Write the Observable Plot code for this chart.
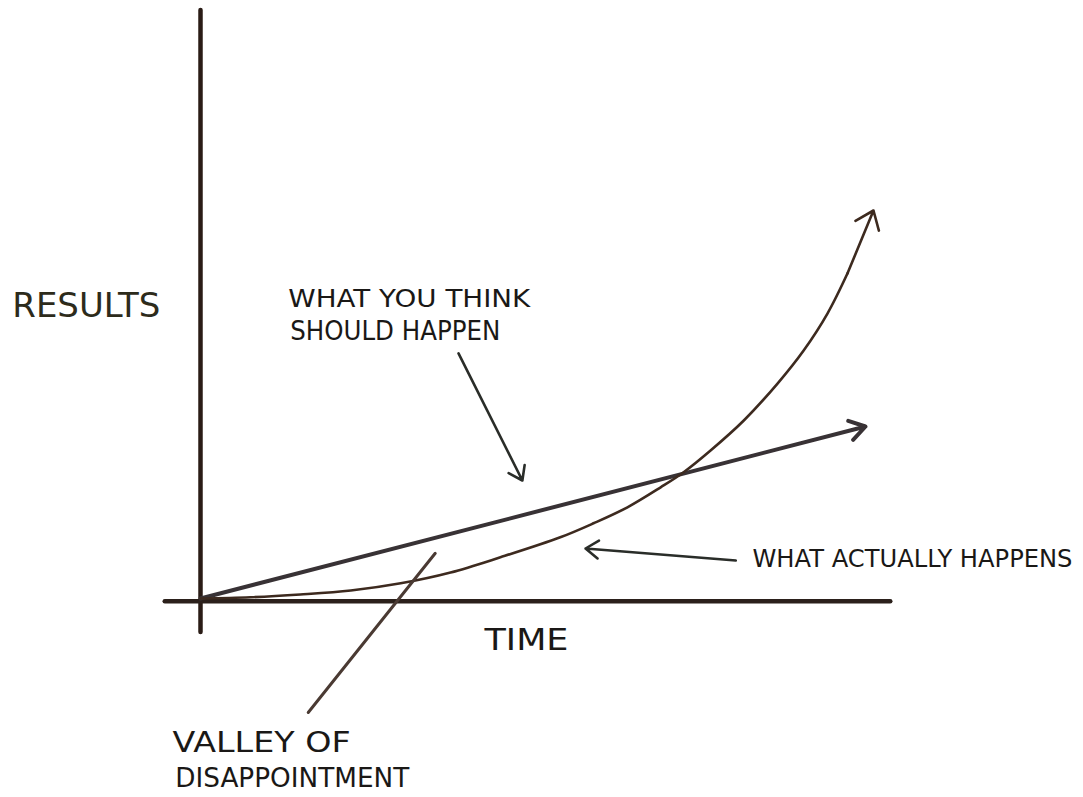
<!DOCTYPE html>
<html>
<head>
<meta charset="utf-8">
<script src="https://cdn.jsdelivr.net/npm/d3@7"></script>
<script src="https://cdn.jsdelivr.net/npm/@observablehq/plot@0.6"></script>
<style>
  html, body { margin: 0; padding: 0; background: #ffffff; }
  #chart svg { display: block; }
</style>
</head>
<body>
<div id="chart"></div>
<script>
// ---- data (time / results units) ----
const actualTime    = [0, 0.75, 1.5, 2.26, 3.01, 3.76, 4.51, 5.41, 5.91, 6.42, 6.92, 7.26, 7.67, 8.17, 8.68, 9.07, 9.43, 9.73, 9.98, 10.12];
const actualResults = [0.05, 0.08, 0.15, 0.25, 0.43, 0.7, 1.08, 1.58, 1.93, 2.33, 2.83, 3.2, 3.75, 4.5, 5.43, 6.25, 7.18, 8.18, 9.08, 9.75];
const expectedTime    = [0, 10];
const expectedResults = [0.05, 4.35];

// annotation labels
const labelText = ["RESULTS", "TIME", "WHAT YOU THINK", "SHOULD HAPPEN", "WHAT ACTUALLY HAPPENS", "VALLEY OF", "DISAPPOINTMENT"];
const labelX    = [-2.83, 4.27, 1.32, 1.35, 8.30, -0.42, -0.38];
const labelY    = [7.35, -1.0, 7.53, 6.71, 1.02, -3.56, -4.45];

// pointer lines (from label to curve)
const pointerX1 = [3.88, 8.05];
const pointerY1 = [6.18, 1.0];
const pointerX2 = [4.84, 5.79];
const pointerY2 = [3.0, 1.3];
const valleyX = [3.53, 1.62];
const valleyY = [1.18, -2.8];

// ---- build tables ----
const actual = actualTime.map((t, i) => ({t, r: actualResults[i]}));
const n = actual.length;
const labels = labelText.map((text, i) => ({text, x: labelX[i], y: labelY[i]}));
const pointers = pointerX1.map((x1, i) => ({x1, y1: pointerY1[i], x2: pointerX2[i], y2: pointerY2[i]}));
const valley = valleyX.map((x, i) => ({x, y: valleyY[i]}));

// label styling (font size, target width in px, colour)
const labelSize  = [33, 30, 25, 26, 24, 29, 26];
const labelWidth = [148, 84, 242, 210, 320, 178, 234];
const labelColor = ["#2d2b1b", "#1a1816", "#1a1816", "#1a1816", "#1a1816", "#1a1816", "#1a1816"];

const plot = Plot.plot({
  width: 1083,
  height: 797,
  marginLeft: 200,
  marginRight: 218,
  marginTop: 200,
  marginBottom: 197,
  x: {domain: [0, 10], axis: null},
  y: {domain: [0, 10], axis: null},
  style: {background: "#ffffff"},
  marks: [
    // axes
    Plot.ruleX([0], {y1: -0.8, y2: 14.75, stroke: "#2a1c16", strokeWidth: 4.5, strokeLinecap: "round"}),
    Plot.ruleY([0], {x1: -0.53, x2: 10.38, y: () => -0.02, stroke: "#2b201b", strokeWidth: 4.5, strokeLinecap: "round"}),
    // what you think should happen
    Plot.arrow([0], {x1: () => expectedTime[0], y1: () => expectedResults[0], x2: () => expectedTime[1], y2: () => expectedResults[1],
      stroke: "#383235", strokeWidth: 4, headLength: 6.8, headAngle: 65, strokeLinecap: "round"}),
    // what actually happens (curve, finished by an arrow on its last stretch)
    Plot.line(actual.slice(0, n - 2), {x: "t", y: "r", curve: "catmull-rom", stroke: "#3d2a1f", strokeWidth: 2.6, strokeLinecap: "round"}),
    Plot.arrow([0], {x1: () => actual[n - 3].t, y1: () => actual[n - 3].r, x2: () => actual[n - 1].t, y2: () => actual[n - 1].r,
      stroke: "#3d2a1f", strokeWidth: 2.6, headLength: 12, headAngle: 75, strokeLinecap: "round"}),
    // valley of disappointment pointer
    Plot.line(valley, {x: "x", y: "y", stroke: "#4a3a33", strokeWidth: 3, strokeLinecap: "round"}),
    // pointers from labels
    Plot.arrow(pointers, {x1: "x1", y1: "y1", x2: "x2", y2: "y2", stroke: "#2a2d29", strokeWidth: 2.6, headLength: 9, headAngle: 70, strokeLinecap: "round"}),
    // labels
    Plot.text(labels, {x: "x", y: "y", text: "text", textAnchor: "start", fontSize: (d, i) => labelSize[i],
      fill: (d, i) => labelColor[i], fontFamily: "DejaVu Sans, sans-serif"})
  ]
});

// fit each handwritten-style label to the width it takes in the sketch
d3.select(plot).selectAll('g[aria-label="text"] text').each(function(d, i) {
  const idx = +d;
  const k = Number.isFinite(idx) ? idx : i;
  d3.select(this).attr("textLength", labelWidth[k]).attr("lengthAdjust", "spacingAndGlyphs");
});

document.getElementById("chart").appendChild(plot);
</script>
</body>
</html>
